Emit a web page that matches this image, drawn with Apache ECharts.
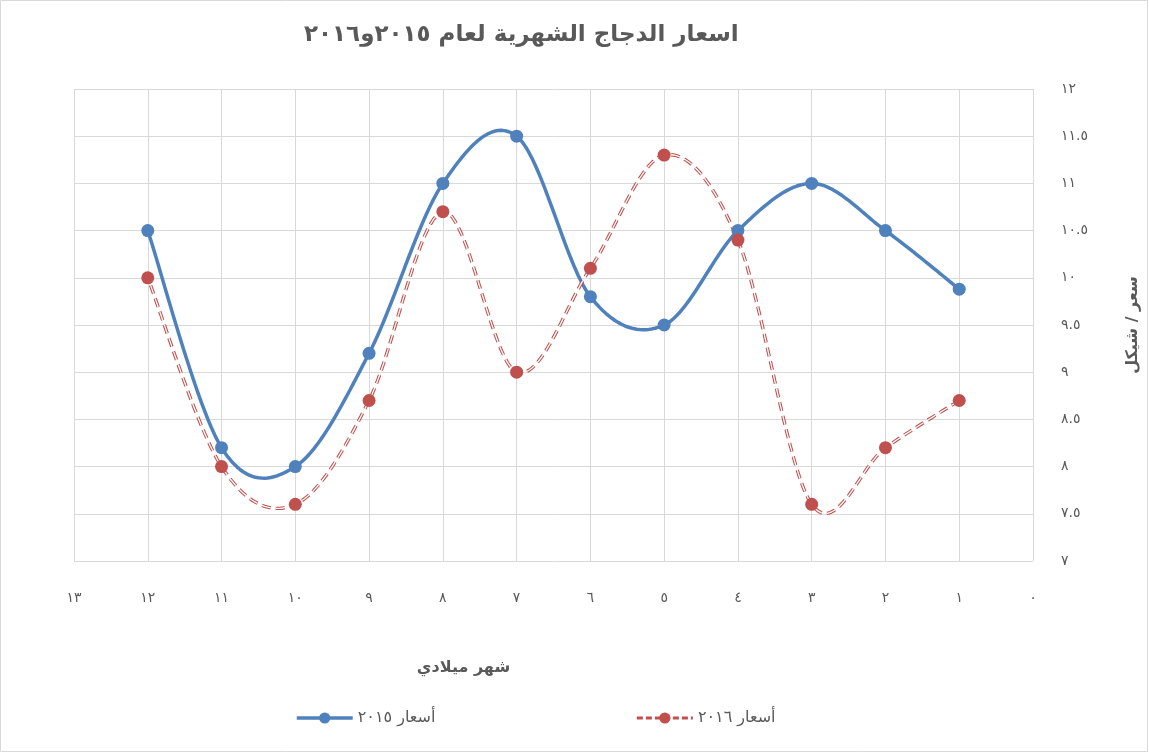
<!DOCTYPE html>
<html>
<head>
<meta charset="utf-8">
<script src="https://cdn.jsdelivr.net/npm/echarts@6/dist/echarts.min.js"></script>
<style>
html,body{margin:0;padding:0;background:#fff;}
#chart{width:1149px;height:753px;}
</style>
</head>
<body>
<div id="chart"></div>
<script>
var months = [1, 2, 3, 4, 5, 6, 7, 8, 9, 10, 11, 12];
var prices2015 = [9.88, 10.5, 11.0, 10.5, 9.5, 9.8, 11.5, 11.0, 9.2, 8.0, 8.2, 10.5];
var prices2016 = [8.7, 8.2, 7.6, 10.4, 11.3, 10.1, 9.0, 10.7, 8.7, 7.6, 8.0, 10.0];
var titleText = 'اسعار الدجاج الشهرية لعام ٢٠١٥و٢٠١٦';
var xName = 'شهر ميلادي';
var yName = 'سعر / شيكل';
var name2015 = 'أسعار ٢٠١٥';
var name2016 = 'أسعار ٢٠١٦';

var digits = '٠١٢٣٤٥٦٧٨٩';
function toArabic(v) {
  return String(v).replace(/[0-9]/g, function (d) { return digits[+d]; });
}
function pairs(xs, ys) { return xs.map(function (x, i) { return [x, ys[i]]; }); }

var FONT = '"DejaVu Sans", "Noto Sans", sans-serif';
var TXT = '#595959';
var GRID = '#d9d9d9';
var BLUE = '#4F81BD';
var RED = '#C0504D';
var DASH = [9, 5];

// Excel-like smoothing (Catmull-Rom as cubic Bezier), sampled in pixel space
function smoothPoints(api, n) {
  var pts = [];
  for (var k = 0; k < n; k++) {
    pts.push(api.coord([api.value(0, k), api.value(1, k)]));
  }
  var out = [pts[0].slice()];
  var S = 24;
  for (var i = 0; i < n - 1; i++) {
    var p0 = pts[Math.max(i - 1, 0)], p1 = pts[i], p2 = pts[i + 1], p3 = pts[Math.min(i + 2, n - 1)];
    var c1 = [p1[0] + (p2[0] - p0[0]) / 6, p1[1] + (p2[1] - p0[1]) / 6];
    var c2 = [p2[0] - (p3[0] - p1[0]) / 6, p2[1] - (p3[1] - p1[1]) / 6];
    for (var s = 1; s <= S; s++) {
      var t = s / S, u = 1 - t;
      var a = u * u * u, b = 3 * u * u * t, c = 3 * u * t * t, d = t * t * t;
      out.push([a * p1[0] + b * c1[0] + c * c2[0] + d * p2[0],
                a * p1[1] + b * c1[1] + c * c2[1] + d * p2[1]]);
    }
  }
  return out;
}

function curveRenderer(kind) {
  return function (params, api) {
    if (params.dataIndexInside !== 0) return null;
    var pts = smoothPoints(api, params.dataInsideLength);
    if (kind === 'solid') {
      return {type: 'polyline', shape: {points: pts, smooth: 0},
        style: {stroke: BLUE, lineWidth: 3.5, fill: null, lineJoin: 'round', lineCap: 'round'}};
    }
    return {type: 'group', children: [
      {type: 'polyline', shape: {points: pts},
        style: {stroke: RED, lineWidth: 3.4, fill: null, lineDash: DASH, lineCap: 'butt'}},
      {type: 'polyline', shape: {points: pts},
        style: {stroke: '#fff', lineWidth: 1.3, fill: null, lineDash: DASH, lineCap: 'butt'}}
    ]};
  };
}

var chart = echarts.init(document.getElementById('chart'), null, {renderer: 'canvas'});
chart.setOption({
  backgroundColor: '#fff',
  animation: false,
  textStyle: {fontFamily: FONT},
  title: {
    text: titleText,
    left: 299,
    top: 19,
    textStyle: {fontFamily: FONT, fontSize: 23, fontWeight: 'bold', color: TXT}
  },
  graphic: [{
    type: 'rect',
    shape: {x: 0.5, y: 0.5, width: 1147, height: 751},
    style: {fill: 'none', stroke: GRID, lineWidth: 1},
    silent: true
  }],
  legend: {
    data: [
      {name: name2015, lineStyle: {color: BLUE, width: 3.5, opacity: 1, type: 'solid'}},
      {name: name2016, lineStyle: {color: RED, width: 3, opacity: 1, type: [6, 3]}}
    ],
    bottom: 22,
    left: 290,
    itemWidth: 56,
    itemHeight: 14,
    itemGap: 200,
    textStyle: {fontFamily: FONT, fontSize: 16, color: TXT}
  },
  grid: {left: 74, right: 112, top: 89, bottom: 192},
  xAxis: {
    type: 'value',
    min: 0, max: 13, interval: 1,
    inverse: true,
    name: xName,
    nameLocation: 'middle',
    nameGap: 99,
    nameTextStyle: {fontFamily: FONT, fontSize: 16, fontWeight: 'bold', color: TXT, padding: [0, 180, 0, 0]},
    axisLine: {show: false},
    axisTick: {show: false},
    axisLabel: {margin: 30, fontSize: 14, color: TXT, formatter: function (v) { return toArabic(v); }},
    splitLine: {show: true, lineStyle: {color: GRID, width: 1}}
  },
  yAxis: {
    type: 'value',
    position: 'right',
    min: 7, max: 12, interval: 0.5,
    name: yName,
    nameLocation: 'middle',
    nameRotate: 90,
    nameGap: 92,
    nameTextStyle: {fontFamily: FONT, fontSize: 16, fontWeight: 'bold', color: TXT},
    axisLine: {show: false},
    axisTick: {show: false},
    axisLabel: {margin: 28, fontSize: 14, color: TXT, align: 'left', formatter: function (v) { return toArabic(v); }},
    splitLine: {show: true, lineStyle: {color: GRID, width: 1}}
  },
  series: [
    {
      name: 'curve2015',
      type: 'custom',
      data: pairs(months, prices2015),
      encode: {x: 0, y: 1},
      renderItem: curveRenderer('solid'),
      clip: false,
      silent: true,
      z: 2
    },
    {
      name: 'curve2016',
      type: 'custom',
      data: pairs(months, prices2016),
      encode: {x: 0, y: 1},
      renderItem: curveRenderer('dash'),
      clip: false,
      silent: true,
      z: 2
    },
    {
      name: name2015,
      type: 'line',
      data: pairs(months, prices2015),
      symbol: 'circle',
      symbolSize: 13,
      itemStyle: {color: BLUE},
      lineStyle: {color: BLUE, width: 3.5, opacity: 0},
      z: 4
    },
    {
      name: name2016,
      type: 'line',
      data: pairs(months, prices2016),
      symbol: 'circle',
      symbolSize: 13,
      itemStyle: {color: RED},
      lineStyle: {color: RED, width: 3, opacity: 0},
      z: 4
    }
  ]
});
</script>
</body>
</html>
